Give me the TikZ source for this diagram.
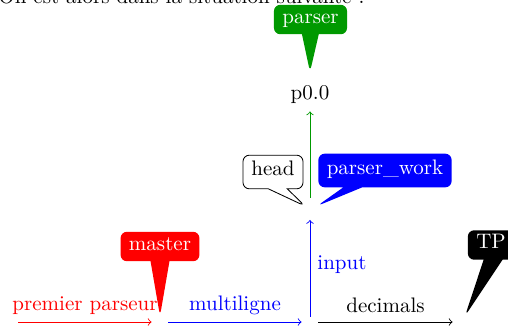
\documentclass[tikz,border=0pt]{standalone}
\usetikzlibrary{shapes.callouts}
\definecolor{tagGreen}{RGB}{0,153,0}
\begin{document}
\begin{tikzpicture}[x=0.476pt, y=-0.476pt,
  tagbox/.style={rectangle callout, rounded corners=3pt, inner xsep=4pt,
    inner ysep=3.3pt, text height=5.5pt, text depth=1.9pt,
    callout pointer width=9pt, text=white},
  bigtag/.style={tagbox, inner ysep=4.3pt},
  link/.style={->, shorten <=4pt, shorten >=4pt},
]
\useasboundingbox (0,0) rectangle (508,326);

% introductory sentence above the graph
\node[anchor=base west, inner sep=0] (intro) at (-2,3.5)
  {On est alors dans la situation suivante~:};

% commits
\coordinate (c0) at (10,322);
\coordinate (c1) at (160,322);
\coordinate (c2) at (310,322);
\coordinate (c3) at (461,322);
\coordinate (c4) at (310,208);
\node (p00) at (310,95) {p0.0};

% history
\draw[link, red] (c0) -- node[midway, above] (l1) {premier parseur} (c1);
\draw[link, blue] (c1) -- node[midway, above] (l2) {multiligne} (c2);
\draw[link] (c2) -- node[midway, above, yshift=1pt] (l3) {decimals} (c3);
\draw[->, blue, shorten <=2.4pt, shorten >=5.7pt] (c2) -- node[midway, right] (l4) {input} (c4);
\draw[->, tagGreen, shorten <=4.8pt] (c4) -- (p00);

% tip positions of the labels
\coordinate (tparser) at (310,72);
\coordinate (tmaster) at (160,316);
\coordinate (thead) at (305,206);
\coordinate (twork) at (317,206);
\coordinate (ttp) at (465,316);

% branch labels
\node[tagbox, fill=tagGreen, callout pointer width=8pt, callout absolute pointer=(tparser)] (parser) at (310.5,19.5) {parser};
\node[tagbox, fill=red, callout absolute pointer=(tmaster)] (master) at (160,246.5) {master};
\node[bigtag, fill=white, draw=black, text=black, callout absolute pointer=(thead)] (head) at (273,172) {head};
\node[bigtag, fill=blue, callout absolute pointer=(twork)] (work) at (385,170.5) {parser\_work};
\node[tagbox, fill=black, callout absolute pointer=(ttp)] (tp) at (491,245) {TP};
\end{tikzpicture}
\end{document}
